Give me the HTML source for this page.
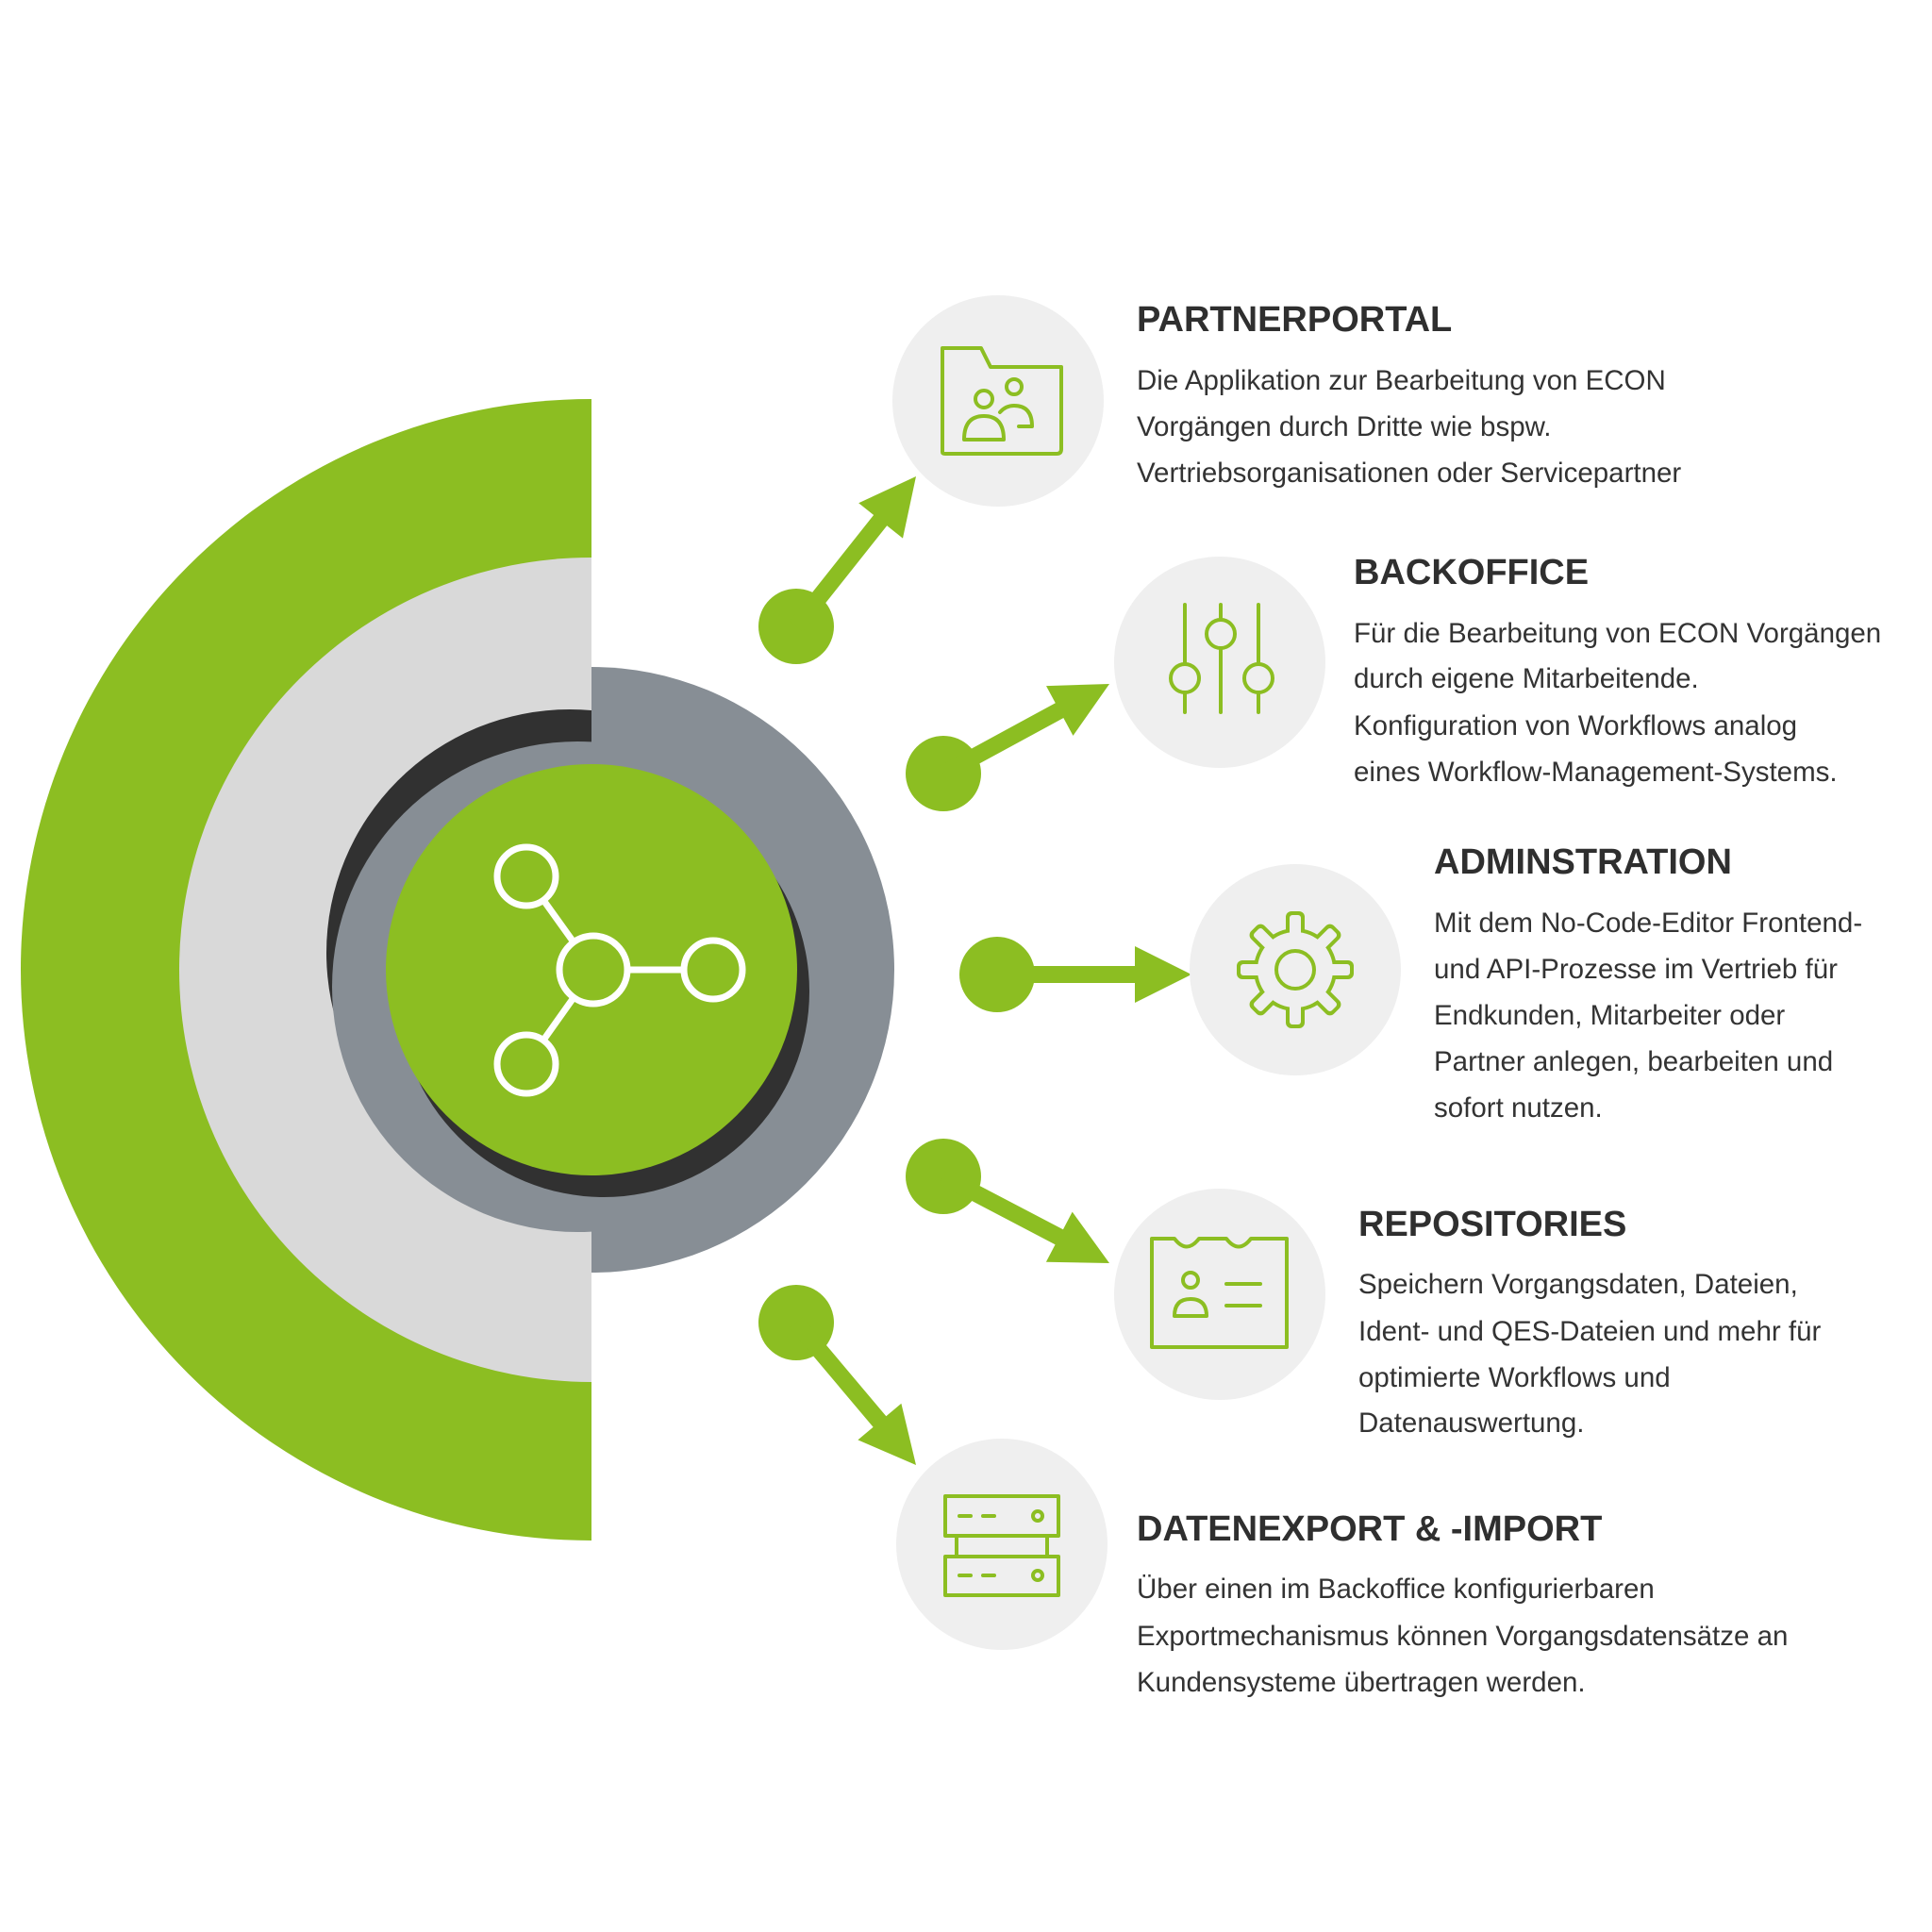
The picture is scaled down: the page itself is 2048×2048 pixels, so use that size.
<!DOCTYPE html>
<html><head><meta charset="utf-8"><style>
html,body{margin:0;padding:0;background:#fff;}
svg{display:block;}
.t{font-family:"Liberation Sans",sans-serif;font-weight:bold;font-size:38px;fill:#2f2f2f;}
.b{font-family:"Liberation Sans",sans-serif;font-size:29.5px;fill:#333;}
.ic{fill:none;stroke:#8cbe22;stroke-width:4;stroke-linecap:round;stroke-linejoin:round;}
</style></head><body>
<svg width="2048" height="2048" viewBox="0 0 2048 2048" xmlns="http://www.w3.org/2000/svg">
<defs>
<clipPath id="L"><rect x="0" y="0" width="627" height="2048"/></clipPath>
<clipPath id="R"><rect x="627" y="0" width="1421" height="2048"/></clipPath>
</defs>
<rect width="2048" height="2048" fill="#fff"/>
<circle cx="627" cy="1028" r="605" fill="#8cbe22" clip-path="url(#L)"/>
<circle cx="627" cy="1028" r="437" fill="#d9d9d9" clip-path="url(#L)"/>
<circle cx="627" cy="1028" r="321" fill="#878e95" clip-path="url(#R)"/>
<circle cx="604" cy="1010" r="258" fill="#313131" clip-path="url(#L)"/>
<circle cx="612" cy="1046" r="260" fill="#878e95" clip-path="url(#L)"/>
<circle cx="640" cy="1051" r="218" fill="#313131"/>
<circle cx="627" cy="1028" r="218" fill="#8cbe22"/>
<g fill="none" stroke="#fff" stroke-width="7">
<line x1="558" y1="929" x2="629" y2="1028"/>
<line x1="558" y1="1128" x2="629" y2="1028"/>
<line x1="629" y1="1028" x2="756" y2="1028"/>
<circle cx="629" cy="1028" r="36" fill="#8cbe22"/>
<circle cx="558" cy="929" r="31" fill="#8cbe22"/>
<circle cx="558" cy="1128" r="31" fill="#8cbe22"/>
<circle cx="756" cy="1028" r="31" fill="#8cbe22"/>
</g>
<!-- arrows -->
<g fill="#8cbe22" stroke="#8cbe22">
<circle cx="844" cy="664" r="40" stroke="none"/>
<line x1="844" y1="664" x2="936" y2="548" stroke-width="18"/>
<polygon points="971,505 957,570.6 910.2,533.2" stroke="none"/>
<circle cx="1000" cy="820" r="40" stroke="none"/>
<line x1="1000" y1="820" x2="1127" y2="751" stroke-width="18"/>
<polygon points="1176,725 1137.5,779.9 1109,727.1" stroke="none"/>
<circle cx="1057" cy="1033" r="40" stroke="none"/>
<line x1="1057" y1="1033" x2="1207" y2="1033" stroke-width="18"/>
<polygon points="1263,1033 1203,1063 1203,1003" stroke="none"/>
<circle cx="1000" cy="1247" r="40" stroke="none"/>
<line x1="1000" y1="1247" x2="1126" y2="1313" stroke-width="18"/>
<polygon points="1176,1339 1108.9,1337.8 1136.7,1284.6" stroke="none"/>
<circle cx="844" cy="1402" r="40" stroke="none"/>
<line x1="844" y1="1402" x2="935" y2="1510" stroke-width="18"/>
<polygon points="971,1553 909.4,1526.4 955.4,1487.8" stroke="none"/>
</g>
<!-- icon circles -->
<g fill="#efefef">
<circle cx="1058" cy="425" r="112"/>
<circle cx="1293" cy="702" r="112"/>
<circle cx="1373" cy="1028" r="112"/>
<circle cx="1293" cy="1372" r="112"/>
<circle cx="1062" cy="1637" r="112"/>
</g>
<!-- icon 1 folder -->
<g class="ic">
<path d="M999,479 V369 H1040 L1050,389 H1125 V476 Q1125,481 1120,481 H1002 Q999,481 999,479 Z"/>
<circle cx="1043" cy="423" r="9"/>
<circle cx="1075" cy="410" r="8"/>
<path d="M1022,466 Q1022,441 1043,441 Q1064,441 1064,466 Z"/>
<path d="M1060,437 Q1066,430 1075,430 Q1094,430 1094,452 H1080"/>
</g>
<!-- icon 2 sliders -->
<g class="ic">
<line x1="1256" y1="641" x2="1256" y2="704"/><line x1="1256" y1="734" x2="1256" y2="755"/>
<circle cx="1256" cy="719" r="15"/>
<line x1="1294" y1="641" x2="1294" y2="657"/><line x1="1294" y1="687" x2="1294" y2="755"/>
<circle cx="1294" cy="672" r="15"/>
<line x1="1334" y1="641" x2="1334" y2="704"/><line x1="1334" y1="734" x2="1334" y2="755"/>
<circle cx="1334" cy="719" r="15"/>
</g>
<!-- icon 3 gear -->
<g transform="translate(1373,1028)">
<g fill="#8cbe22">
<circle r="44"/>
<rect x="-10" y="-62" width="20" height="62" rx="6"/>
<rect x="-10" y="-62" width="20" height="62" rx="6" transform="rotate(45)"/>
<rect x="-10" y="-62" width="20" height="62" rx="6" transform="rotate(90)"/>
<rect x="-10" y="-62" width="20" height="62" rx="6" transform="rotate(135)"/>
<rect x="-10" y="-62" width="20" height="62" rx="6" transform="rotate(180)"/>
<rect x="-10" y="-62" width="20" height="62" rx="6" transform="rotate(225)"/>
<rect x="-10" y="-62" width="20" height="62" rx="6" transform="rotate(270)"/>
<rect x="-10" y="-62" width="20" height="62" rx="6" transform="rotate(315)"/>
</g>
<g fill="#efefef">
<circle r="40"/>
<rect x="-6" y="-58" width="12" height="58" rx="3"/>
<rect x="-6" y="-58" width="12" height="58" rx="3" transform="rotate(45)"/>
<rect x="-6" y="-58" width="12" height="58" rx="3" transform="rotate(90)"/>
<rect x="-6" y="-58" width="12" height="58" rx="3" transform="rotate(135)"/>
<rect x="-6" y="-58" width="12" height="58" rx="3" transform="rotate(180)"/>
<rect x="-6" y="-58" width="12" height="58" rx="3" transform="rotate(225)"/>
<rect x="-6" y="-58" width="12" height="58" rx="3" transform="rotate(270)"/>
<rect x="-6" y="-58" width="12" height="58" rx="3" transform="rotate(315)"/>
</g>
<circle r="20" fill="none" stroke="#8cbe22" stroke-width="4"/>
</g>
<!-- icon 4 id card -->
<g class="ic">
<path d="M1221,1313 H1245 Q1258,1330 1271,1313 H1300 Q1313,1330 1326,1313 H1364 V1428 H1221 Z"/>
<circle cx="1262" cy="1357" r="8"/>
<path d="M1245,1395 Q1245,1377 1262,1377 Q1279,1377 1279,1395 Z"/>
<line x1="1300" y1="1361" x2="1336" y2="1361"/>
<line x1="1300" y1="1384" x2="1336" y2="1384"/>
</g>
<!-- icon 5 server -->
<g class="ic">
<rect x="1002" y="1586" width="120" height="42"/>
<rect x="1002" y="1650" width="120" height="41"/>
<line x1="1014" y1="1628" x2="1014" y2="1650"/><line x1="1110" y1="1628" x2="1110" y2="1650"/>
<line x1="1017" y1="1607" x2="1029" y2="1607"/><line x1="1042" y1="1607" x2="1054" y2="1607"/>
<circle cx="1100" cy="1607" r="5"/>
<line x1="1017" y1="1670" x2="1029" y2="1670"/><line x1="1042" y1="1670" x2="1054" y2="1670"/>
<circle cx="1100" cy="1670" r="5"/>
</g>
<!-- text -->
<text class="t" x="1205" y="351">PARTNERPORTAL</text>
<text class="b" x="1205" y="413">Die Applikation zur Bearbeitung von ECON</text>
<text class="b" x="1205" y="462">Vorgängen durch Dritte wie bspw.</text>
<text class="b" x="1205" y="511">Vertriebsorganisationen oder Servicepartner</text>

<text class="t" x="1435" y="619">BACKOFFICE</text>
<text class="b" x="1435" y="681">Für die Bearbeitung von ECON Vorgängen</text>
<text class="b" x="1435" y="729">durch eigene Mitarbeitende.</text>
<text class="b" x="1435" y="779">Konfiguration von Workflows analog</text>
<text class="b" x="1435" y="828">eines Workflow-Management-Systems.</text>

<text class="t" x="1520" y="926">ADMINSTRATION</text>
<text class="b" x="1520" y="988">Mit dem No-Code-Editor Frontend-</text>
<text class="b" x="1520" y="1037">und API-Prozesse im Vertrieb für</text>
<text class="b" x="1520" y="1086">Endkunden, Mitarbeiter oder</text>
<text class="b" x="1520" y="1135">Partner anlegen, bearbeiten und</text>
<text class="b" x="1520" y="1184">sofort nutzen.</text>

<text class="t" x="1440" y="1310">REPOSITORIES</text>
<text class="b" x="1440" y="1371">Speichern Vorgangsdaten, Dateien,</text>
<text class="b" x="1440" y="1421">Ident- und QES-Dateien und mehr für</text>
<text class="b" x="1440" y="1470">optimierte Workflows und</text>
<text class="b" x="1440" y="1518">Datenauswertung.</text>

<text class="t" x="1205" y="1633">DATENEXPORT &amp; -IMPORT</text>
<text class="b" x="1205" y="1694">Über einen im Backoffice konfigurierbaren</text>
<text class="b" x="1205" y="1744">Exportmechanismus können Vorgangsdatensätze an</text>
<text class="b" x="1205" y="1793">Kundensysteme übertragen werden.</text>
</svg>
</body></html>
